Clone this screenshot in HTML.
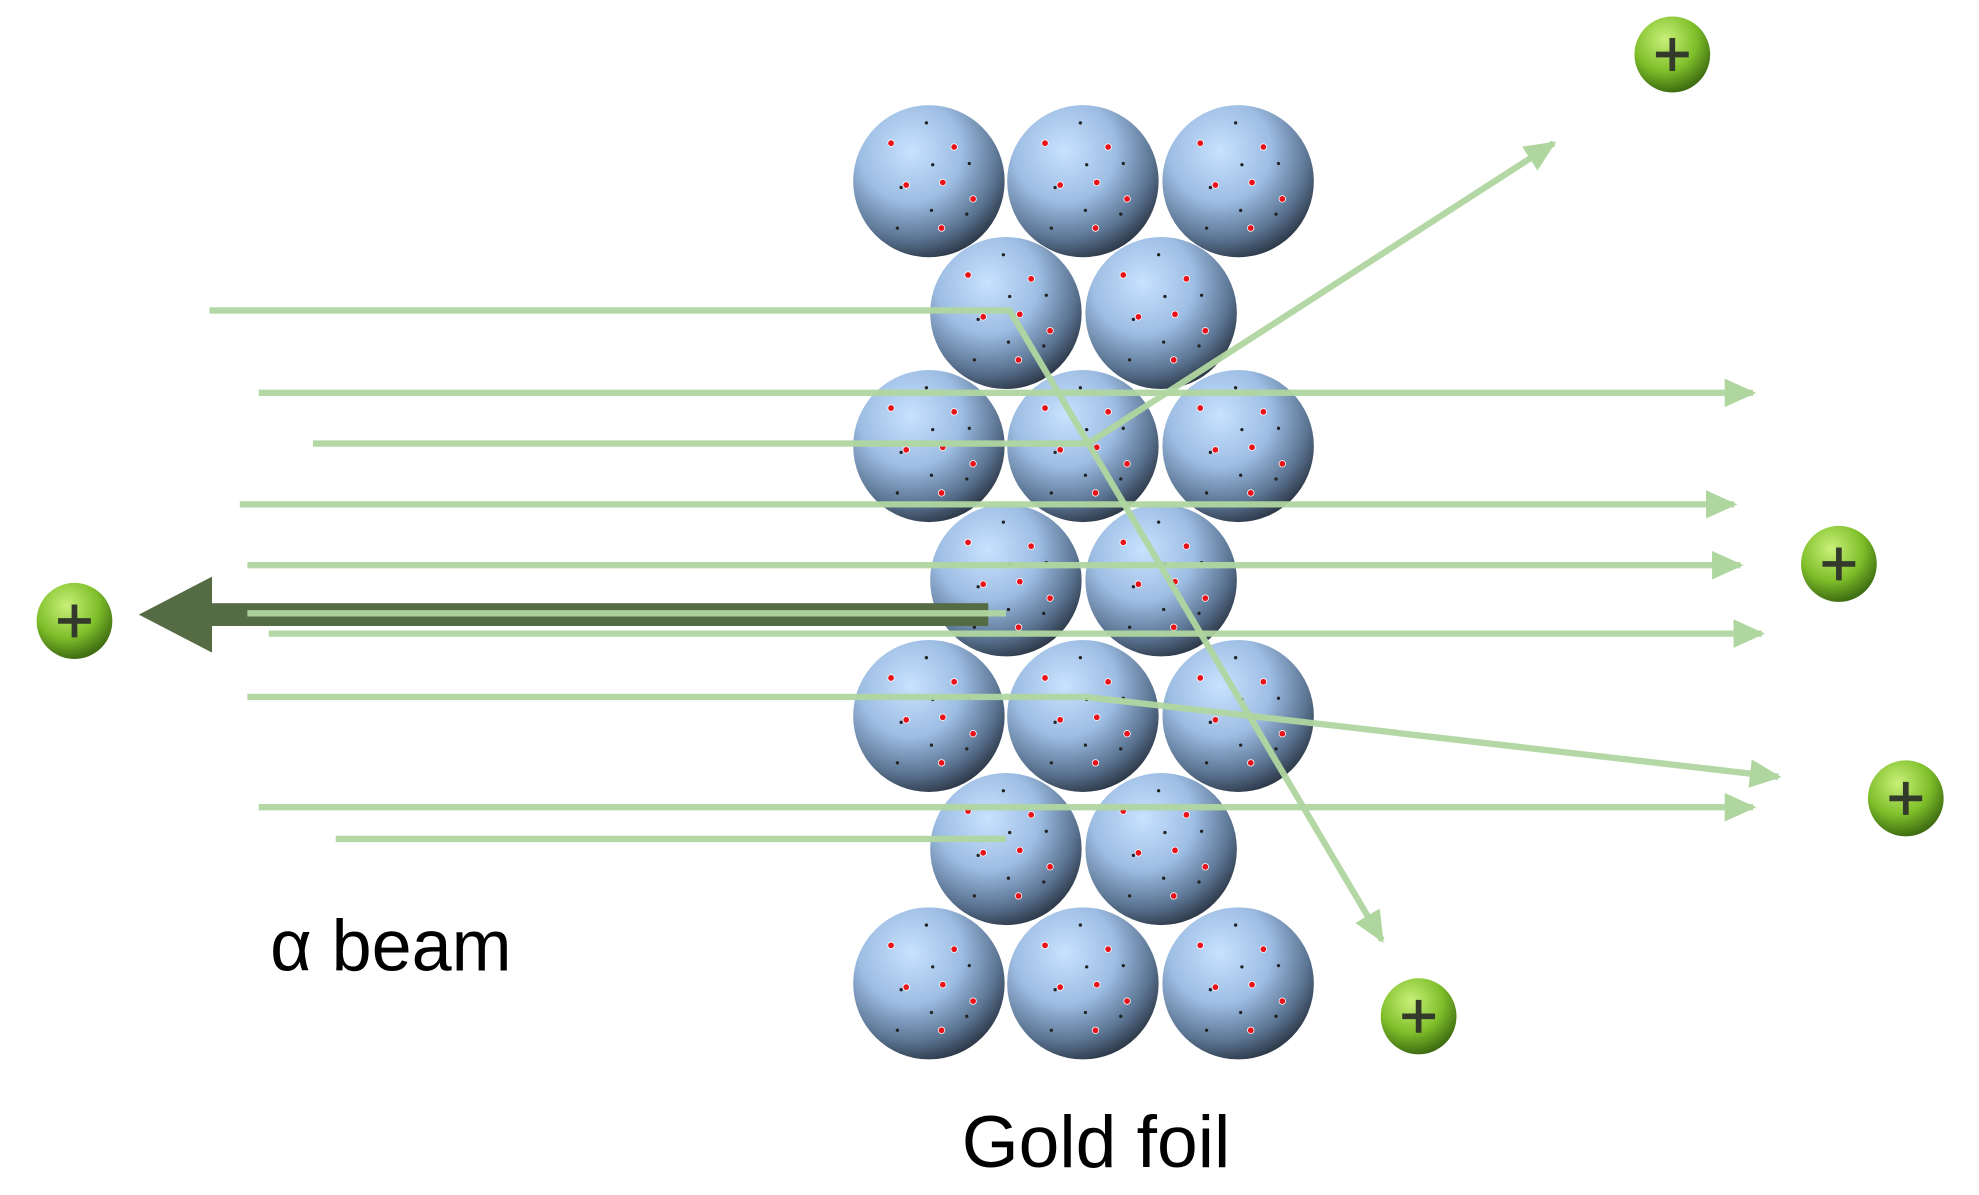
<!DOCTYPE html>
<html><head><meta charset="utf-8"><style>
html,body{margin:0;padding:0;background:#fff;}
svg{display:block;}
</style></head><body>
<svg width="1979" height="1195" viewBox="0 0 1568 943" preserveAspectRatio="none" xmlns="http://www.w3.org/2000/svg">
<defs>
<radialGradient id="ag" cx="0.38" cy="0.3" r="0.75">
<stop offset="0" stop-color="#c8e2ff"/>
<stop offset="0.45" stop-color="#9dbde3"/>
<stop offset="0.78" stop-color="#5a7391"/>
<stop offset="1" stop-color="#27313f"/>
</radialGradient>
<radialGradient id="pg" cx="0.4" cy="0.3" r="0.7">
<stop offset="0" stop-color="#c9f07a"/>
<stop offset="0.6" stop-color="#7fbf2a"/>
<stop offset="1" stop-color="#3f6e12"/>
</radialGradient>
<g id="atom">
<circle r="60" fill="url(#ag)"/>
<g fill="#e8121b" stroke="#fff" stroke-width="0.6">
<circle cx="-30" cy="-30" r="2.6"/><circle cx="20" cy="-27" r="2.6"/><circle cx="-18" cy="3" r="2.6"/>
<circle cx="11" cy="1" r="2.6"/><circle cx="35" cy="14" r="2.6"/><circle cx="10" cy="37" r="2.6"/>
</g>
<g fill="#222">
<circle cx="-2" cy="-46" r="1.3"/><circle cx="3" cy="-13" r="1.3"/><circle cx="32" cy="-14" r="1.3"/>
<circle cx="-22" cy="5" r="1.3"/><circle cx="2" cy="23" r="1.3"/><circle cx="30" cy="26" r="1.3"/><circle cx="-25" cy="37" r="1.3"/>
</g>
</g>
<g id="prot">
<circle r="30" fill="url(#pg)"/>
<path d="M-13 0H13M0 -13V13" stroke="#333a2c" stroke-width="4.5"/>
</g>
<marker id="ar" markerWidth="5" markerHeight="4.5" refX="4.5" refY="2.25" orient="auto" markerUnits="strokeWidth">
<path d="M0 0L5 2.25L0 4.5z" fill="#b0d6a0"/>
</marker>
</defs>
<g>
<use href="#atom" x="736" y="143"/><use href="#atom" x="858" y="143"/><use href="#atom" x="981" y="143"/>
<use href="#atom" x="797" y="247"/><use href="#atom" x="920" y="247"/>
<use href="#atom" x="736" y="352"/><use href="#atom" x="858" y="352"/><use href="#atom" x="981" y="352"/>
<use href="#atom" x="797" y="458"/><use href="#atom" x="920" y="458"/>
<use href="#atom" x="736" y="565"/><use href="#atom" x="858" y="565"/><use href="#atom" x="981" y="565"/>
<use href="#atom" x="797" y="670"/><use href="#atom" x="920" y="670"/>
<use href="#atom" x="736" y="776"/><use href="#atom" x="858" y="776"/><use href="#atom" x="981" y="776"/>
</g>
<rect x="165" y="476" width="618" height="18" fill="#556b44"/>
<path d="M110 485L168 455L168 515z" fill="#556b44"/>
<g stroke="#b0d6a0" stroke-width="5" fill="none" stroke-opacity="0.95">
<polyline points="166,245 800,245 1095,742" marker-end="url(#ar)"/>
<line x1="205" y1="310" x2="1389" y2="310" marker-end="url(#ar)"/>
<polyline points="248,350 862,350 1231,113" marker-end="url(#ar)"/>
<line x1="190" y1="398" x2="1374" y2="398" marker-end="url(#ar)"/>
<line x1="196" y1="446" x2="1379" y2="446" marker-end="url(#ar)"/>
<line x1="196" y1="484" x2="797" y2="484"/>
<line x1="213" y1="500" x2="1396" y2="500" marker-end="url(#ar)"/>
<polyline points="196,550 860,550 1409,613" marker-end="url(#ar)"/>
<line x1="205" y1="637" x2="1389" y2="637" marker-end="url(#ar)"/>
<line x1="266" y1="662" x2="797" y2="662"/>
</g>
<use href="#prot" x="1325" y="43"/>
<use href="#prot" x="1457" y="445"/>
<use href="#prot" x="1510" y="630"/>
<use href="#prot" x="1124" y="802"/>
<use href="#prot" x="59" y="490"/>
<text x="214" y="766" font-family="Liberation Sans, DejaVu Sans, sans-serif" font-size="57" fill="#000">α beam</text>
<text x="762" y="921" font-family="Liberation Sans, sans-serif" font-size="58" fill="#000">Gold foil</text>
</svg>
</body></html>
